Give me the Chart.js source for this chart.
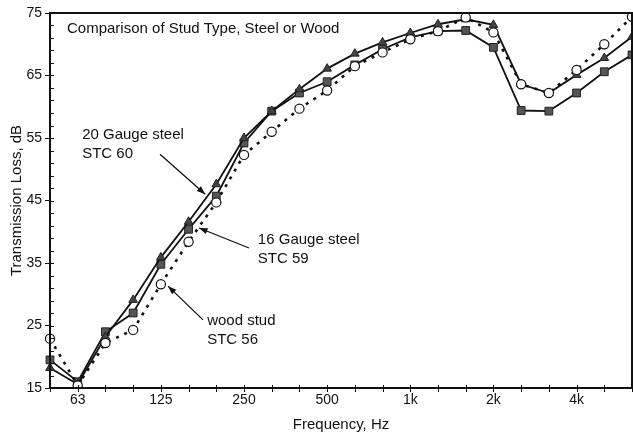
<!DOCTYPE html>
<html>
<head>
<meta charset="utf-8">
<script src="https://cdn.jsdelivr.net/npm/chart.js@4"></script>
<style>
  body{margin:0;background:#fff}
  canvas{display:block}
</style>
</head>
<body>
<canvas id="myChart" width="633" height="434"></canvas>
<script>

// 1/3 octave bands
const freqs = ['50','63','80','100','125','160','200','250','315','400','500','630','800','1k','1.25k','1.6k','2k','2.5k','3.15k','4k','5k','6.3k'];
const shownLabels = ['63','125','250','500','1k','2k','4k'];
const yTicks = [15,25,35,45,55,65,75];

const gauge20 = [18.2,15.6,23.2,29.1,35.9,41.6,47.6,55.0,59.3,62.8,66.1,68.5,70.3,71.8,73.2,74.0,73.1,63.6,62.2,65.1,67.8,71.2];
const gauge16 = [19.5,16.0,24.0,27.0,34.8,40.4,45.7,54.2,59.3,62.2,64.0,66.7,69.2,71.1,72.1,72.2,69.5,59.4,59.3,62.2,65.6,68.3];
const wood    = [22.9,15.4,22.2,24.3,31.6,38.4,44.7,52.3,56.0,59.7,62.6,66.5,68.7,70.8,72.1,74.3,71.9,63.6,62.2,65.9,70.0,74.4];

// callouts: text anchor + arrow (in category index / dB)
const notes = [
  {lines:['20 Gauge steel','STC 60'], at:[1.16,55.5], from:[3.97,52.4], to:[5.6,46.0]},
  {lines:['16 Gauge steel','STC 59'], at:[7.5,38.7], from:[7.18,37.4], to:[5.38,40.6]},
  {lines:['wood stud','STC 56'], at:[5.67,25.7], from:[5.52,25.9], to:[4.26,31.3]}
];

const FONT = '"Liberation Sans", Arial, sans-serif';

const framePlugin = {
  id:'frame',
  afterDraw(chart){
    const {ctx, chartArea:a, scales:{x,y}} = chart;
    ctx.save();
    ctx.strokeStyle = '#111';
    // minor y ticks, inside
    ctx.lineWidth = 1;
    for(let v=15; v<=75; v+=2){
      const py = Math.round(y.getPixelForValue(v))+0.5;
      ctx.beginPath(); ctx.moveTo(a.left, py); ctx.lineTo(a.left+4, py); ctx.stroke();
    }
    // x ticks crossing the axis
    freqs.forEach((f,i)=>{
      const px = Math.round(x.getPixelForValue(i))+0.5;
      ctx.beginPath(); ctx.moveTo(px, a.bottom-3); ctx.lineTo(px, a.bottom+4); ctx.stroke();
    });
    // box
    ctx.lineWidth = 2;
    ctx.strokeRect(a.left, a.top, a.right-a.left, a.bottom-a.top);

    // title + callouts
    ctx.fillStyle = '#111';
    ctx.font = '15px '+FONT;
    ctx.textBaseline = 'middle';
    ctx.textAlign = 'left';
    ctx.fillText('Comparison of Stud Type, Steel or Wood', a.left+17, a.top+16);

    notes.forEach(n=>{
      const tx = x.getPixelForValue(n.at[0]), ty = y.getPixelForValue(n.at[1]);
      n.lines.forEach((t,k)=>ctx.fillText(t, tx, ty+k*18.5));
      const x1 = x.getPixelForValue(n.from[0]), y1 = y.getPixelForValue(n.from[1]);
      const x2 = x.getPixelForValue(n.to[0]), y2 = y.getPixelForValue(n.to[1]);
      ctx.lineWidth = 1.3;
      ctx.beginPath(); ctx.moveTo(x1,y1); ctx.lineTo(x2,y2); ctx.stroke();
      const ang = Math.atan2(y2-y1, x2-x1), L = 9, W = 0.35;
      ctx.beginPath();
      ctx.moveTo(x2,y2);
      ctx.lineTo(x2-L*Math.cos(ang-W), y2-L*Math.sin(ang-W));
      ctx.lineTo(x2-L*Math.cos(ang+W), y2-L*Math.sin(ang+W));
      ctx.closePath(); ctx.fill();
    });
    ctx.restore();
  }
};

const data = {
  labels: freqs,
  datasets: [
    {
      label:'wood stud',
      data: wood,
      borderColor:'#111',
      borderWidth:2.6,
      borderDash:[3,6],
      pointStyle:'circle',
      pointRadius:4.6,
      pointBorderWidth:1.2,
      pointBorderColor:'#111',
      pointBackgroundColor:'#fff'
    },
    {
      label:'20 Gauge steel',
      data: gauge20,
      borderColor:'#111',
      borderWidth:1.8,
      pointStyle:'triangle',
      pointRadius:5,
      pointBorderWidth:1,
      pointBorderColor:'#222',
      pointBackgroundColor:'#444'
    },
    {
      label:'16 Gauge steel',
      data: gauge16,
      borderColor:'#111',
      borderWidth:1.8,
      pointStyle:'rect',
      pointRadius:5.5,
      pointBorderWidth:1,
      pointBorderColor:'#222',
      pointBackgroundColor:'#555'
    }
  ]
};

const config = {
  type:'line',
  data: data,
  options:{
    responsive:false,
    animation:false,
    events:[],
    layout:{autoPadding:false, padding:{top:13,right:1,left:0,bottom:0}},
    elements:{line:{tension:0}},
    plugins:{legend:{display:false},tooltip:{enabled:false}},
    scales:{
      x:{
        type:'category',
        offset:false,
        afterFit(s){ s.height = 46; s.paddingLeft = 0; s.paddingRight = 0 },
        grid:{display:true, drawOnChartArea:false, drawTicks:true, tickLength:4, tickColor:'rgba(0,0,0,0)'},
        border:{display:false},
        ticks:{
          autoSkip:false, maxRotation:0, padding:0, color:'#111',
          font:{family:FONT,size:14},
          callback(v,i){ return shownLabels.includes(freqs[i]) ? freqs[i] : '' }
        },
        title:{display:true,text:'Frequency, Hz',color:'#111',font:{family:FONT,size:15},padding:{top:0,bottom:0}}
      },
      y:{
        min:15, max:75,
        afterFit(s){ s.width = 50; s.paddingTop = 0; s.paddingBottom = 0 },
        afterBuildTicks(s){ s.ticks = yTicks.map(v=>({value:v})) },
        grid:{drawOnChartArea:false, drawTicks:true, tickLength:5, color:'#111'},
        border:{display:false},
        ticks:{padding:3, color:'#111', font:{family:FONT,size:14}},
        title:{display:true,text:'Transmission Loss, dB',color:'#111',font:{family:FONT,size:15},padding:{top:8,bottom:2}}
      }
    }
  },
  plugins:[framePlugin]
};

const myChart = new Chart(document.getElementById('myChart'), config);
</script>
</body>
</html>
